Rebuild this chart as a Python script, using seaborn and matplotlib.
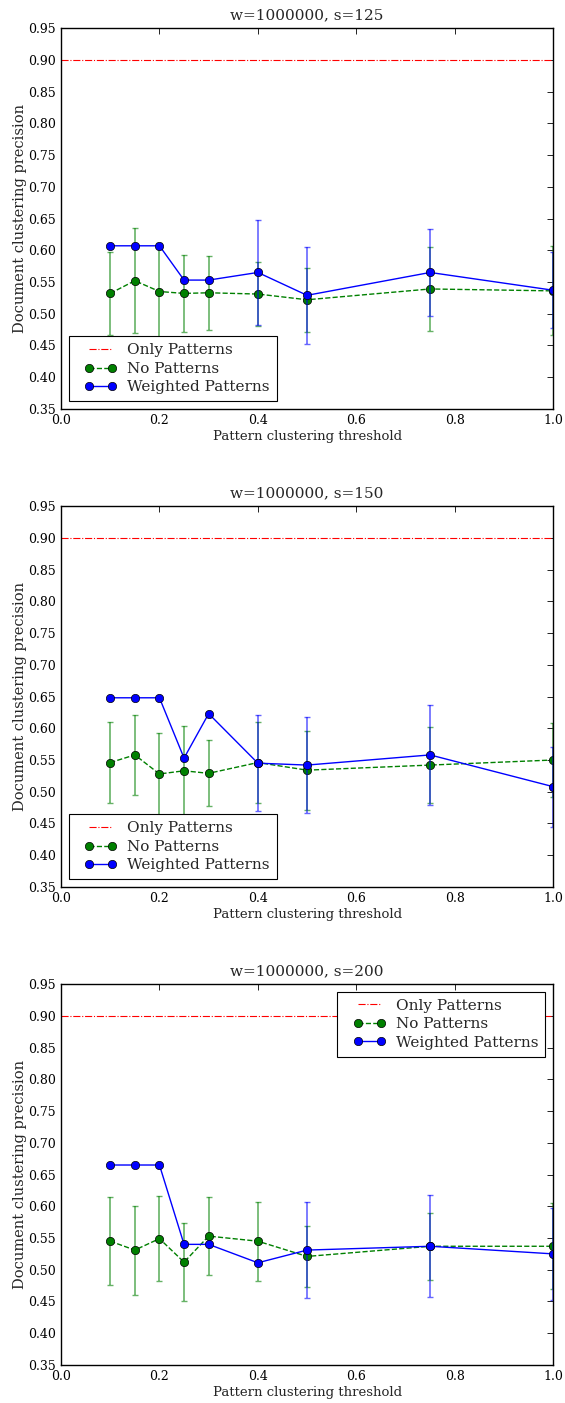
import numpy as np
import pandas as pd
import seaborn as sns
import matplotlib
matplotlib.use('Agg')
import matplotlib.pyplot as plt
from matplotlib.legend_handler import HandlerLine2D

# thresholds on the x axis
thresholds = [0.1, 0.15, 0.2, 0.25, 0.3, 0.4, 0.5, 0.75, 1.0]
sizes = [125, 150, 200]
window = 1000000
only_patterns = 0.90

# No Patterns (green) means / errors per s
nopat_125 = [0.532, 0.552, 0.535, 0.532, 0.533, 0.531, 0.522, 0.539, 0.536]
nopat_125_err = [0.065, 0.083, 0.077, 0.060, 0.058, 0.050, 0.050, 0.066, 0.070]
nopat_150 = [0.546, 0.558, 0.528, 0.533, 0.529, 0.546, 0.534, 0.542, 0.550]
nopat_150_err = [0.064, 0.063, 0.064, 0.070, 0.052, 0.064, 0.062, 0.060, 0.058]
nopat_200 = [0.545, 0.531, 0.549, 0.512, 0.553, 0.545, 0.521, 0.537, 0.537]
nopat_200_err = [0.069, 0.070, 0.067, 0.061, 0.061, 0.062, 0.048, 0.053, 0.068]

# Weighted Patterns (blue) means / errors per s
weighted_125 = [0.607, 0.607, 0.607, 0.553, 0.553, 0.565, 0.529, 0.565, 0.537]
weighted_125_err = [0, 0, 0, 0, 0, 0.083, 0.076, 0.068, 0.060]
weighted_150 = [0.648, 0.648, 0.648, 0.553, 0.623, 0.545, 0.542, 0.558, 0.508]
weighted_150_err = [0, 0, 0, 0, 0, 0.076, 0.076, 0.079, 0.063]
weighted_200 = [0.665, 0.665, 0.665, 0.540, 0.540, 0.511, 0.531, 0.537, 0.525]
weighted_200_err = [0, 0, 0, 0, 0, 0, 0.075, 0.080, 0.073]

nopat = [nopat_125, nopat_150, nopat_200]
nopat_err = [nopat_125_err, nopat_150_err, nopat_200_err]
weighted = [weighted_125, weighted_150, weighted_200]
weighted_err = [weighted_125_err, weighted_150_err, weighted_200_err]
legend_locs = ['lower left', 'lower left', 'upper right']

sns.set_style("white")
plt.rcParams['font.family'] = 'DejaVu Serif'
plt.rcParams['xtick.direction'] = 'in'
plt.rcParams['ytick.direction'] = 'in'
plt.rcParams['xtick.top'] = True
plt.rcParams['ytick.right'] = True

green = (0, 0.5, 0)
blue = (0, 0, 1)

fig, axes = plt.subplots(3, 1, figsize=(5.65, 14.03), dpi=100)
fig.subplots_adjust(left=0.108, right=0.979, top=0.980, bottom=0.0271, hspace=0.255)

for i, ax in enumerate(axes):
    df = pd.DataFrame({'t': thresholds, 'np': nopat[i], 'w': weighted[i]})

    ax.axhline(only_patterns, color='red', linestyle='-.', linewidth=0.8, label='Only Patterns')

    ax.errorbar(thresholds, nopat[i], yerr=nopat_err[i], fmt='none', ecolor=green,
                alpha=0.6, capsize=2.5, elinewidth=1.2)
    sns.lineplot(data=df, x='t', y='np', ax=ax, color=green, linestyle='--', linewidth=1.0,
                 marker='o', markersize=6, markeredgecolor='k', markeredgewidth=0.5,
                 label='No Patterns')

    ax.errorbar(thresholds, weighted[i], yerr=weighted_err[i], fmt='none', ecolor=blue,
                alpha=0.6, capsize=2.5, elinewidth=1.2)
    sns.lineplot(data=df, x='t', y='w', ax=ax, color=blue, linestyle='-', linewidth=1.0,
                 marker='o', markersize=6, markeredgecolor='k', markeredgewidth=0.5,
                 label='Weighted Patterns')

    ax.set_xlim(0, 1.0)
    ax.set_ylim(0.35, 0.95)
    ax.set_xticks(np.arange(0, 1.01, 0.2))
    ax.set_yticks(np.arange(0.35, 0.951, 0.05))
    ax.set_yticklabels(['%.2f' % v for v in np.arange(0.35, 0.951, 0.05)])
    ax.tick_params(labelsize=9, length=4, width=0.6, colors='k')
    for sp in ax.spines.values():
        sp.set_color('k')
        sp.set_linewidth(1.0)
    ax.set_xlabel('Pattern clustering threshold', fontsize=9.5, labelpad=2)
    ax.set_ylabel('Document clustering precision', fontsize=10.5, labelpad=1)
    ax.set_title('w=%d, s=%d' % (window, sizes[i]), fontsize=11)

    h, l = ax.get_legend_handles_labels()
    leg = ax.legend(h, l, loc=legend_locs[i], fontsize=11, numpoints=2, fancybox=False,
                    framealpha=1, edgecolor='k', borderaxespad=0.5,
                    handlelength=3.3, handletextpad=0.1, labelspacing=0.3, borderpad=0.45,
                    handler_map={hh: HandlerLine2D(marker_pad=0.9) for hh in h})
    leg.get_frame().set_linewidth(0.8)

plt.savefig('out.png', dpi=100)
